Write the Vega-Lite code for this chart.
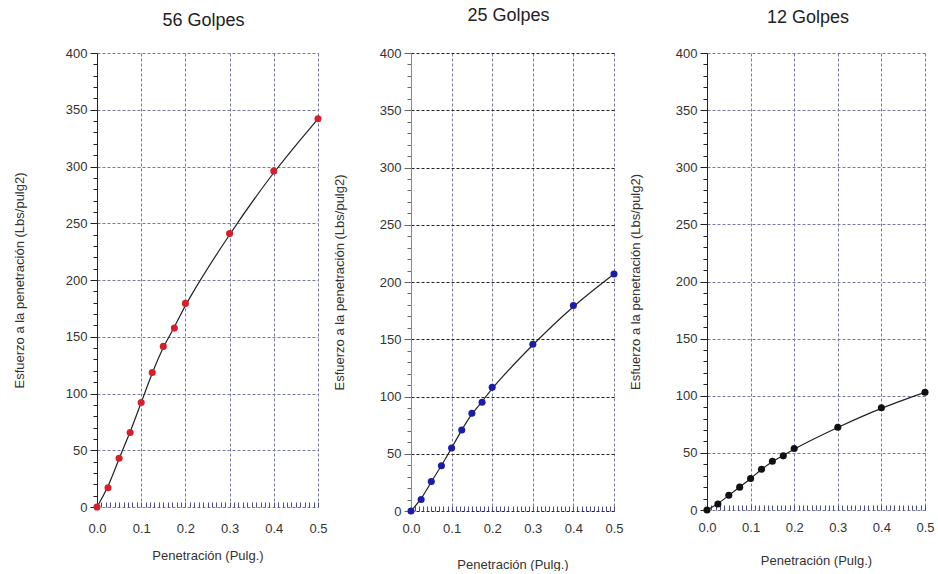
{
  "$schema": "https://vega.github.io/schema/vega-lite/v6.json",
  "background": "white",
  "padding": {"left": 13, "top": 7, "right": 0, "bottom": 0},
  "config": {
    "font": "Liberation Sans",
    "view": {"stroke": null},
    "axis": {
      "labelFont": "Liberation Sans", "labelFontSize": 13, "labelColor": "#333",
      "titleFont": "Liberation Sans", "titleFontSize": 13, "titleFontWeight": "normal", "titleColor": "#333",
      "gridDash": [3, 2], "gridColor": "#7777a6", "gridWidth": 1, "labelOverlap": false,
      "ticks": true, "tickWidth": 1, "tickOpacity": 1
    },
    "title": {"font": "Liberation Sans", "fontSize": 18, "fontWeight": "normal", "color": "#222"}
  },
  "datasets": {
    "g56": [
      {"pen": 0, "esf": 0}, {"pen": 0.025, "esf": 17}, {"pen": 0.05, "esf": 43}, {"pen": 0.075, "esf": 65.6},
      {"pen": 0.1, "esf": 92}, {"pen": 0.125, "esf": 118.5}, {"pen": 0.15, "esf": 141.5}, {"pen": 0.175, "esf": 157.6},
      {"pen": 0.2, "esf": 179.4}, {"pen": 0.3, "esf": 241}, {"pen": 0.4, "esf": 296}, {"pen": 0.5, "esf": 342}
    ],
    "g25": [
      {"pen": 0, "esf": 0}, {"pen": 0.025, "esf": 10}, {"pen": 0.05, "esf": 25.7}, {"pen": 0.075, "esf": 39.5},
      {"pen": 0.1, "esf": 55}, {"pen": 0.125, "esf": 70.8}, {"pen": 0.15, "esf": 85.4}, {"pen": 0.175, "esf": 95},
      {"pen": 0.2, "esf": 108}, {"pen": 0.3, "esf": 145.6}, {"pen": 0.4, "esf": 179.5}, {"pen": 0.5, "esf": 207}
    ],
    "g12": [
      {"pen": 0, "esf": 0}, {"pen": 0.025, "esf": 5.3}, {"pen": 0.05, "esf": 12.9}, {"pen": 0.075, "esf": 20},
      {"pen": 0.1, "esf": 27.5}, {"pen": 0.125, "esf": 35.7}, {"pen": 0.15, "esf": 42.7}, {"pen": 0.175, "esf": 47.4},
      {"pen": 0.2, "esf": 53.8}, {"pen": 0.3, "esf": 72.5}, {"pen": 0.4, "esf": 89.5}, {"pen": 0.5, "esf": 103}
    ]
  },
  "spacing": 5,
  "hconcat": [
    {
      "width": 221, "height": 454,
      "title": {"text": "56 Golpes", "offset": 17, "dx": -4},
      "data": {"name": "g56"},
      "encoding": {
        "x": {"field": "pen", "type": "quantitative", "scale": {"domain": [0, 0.5], "nice": false},
          "axis": {"title": "Penetración (Pulg.)",
            "values": [0,0.01,0.02,0.03,0.04,0.05,0.06,0.07,0.08,0.09,0.1,0.11,0.12,0.13,0.14,0.15,0.16,0.17,0.18,0.19,0.2,0.21,0.22,0.23,0.24,0.25,0.26,0.27,0.28,0.29,0.3,0.31,0.32,0.33,0.34,0.35,0.36,0.37,0.38,0.39,0.4,0.41,0.42,0.43,0.44,0.45,0.46,0.47,0.48,0.49,0.5],
            "labelExpr": "abs(datum.value*10 - round(datum.value*10)) < 0.001 ? format(datum.value, '.1f') : ''",
            "gridOpacity": {"condition": {"test": "abs(datum.value*10 - round(datum.value*10)) < 0.001", "value": 1}, "value": 0},
            "offset": -5, "domain": false,
            "tickSize": 5, "tickColor": "#4a4a8a",
            "labelPadding": 15, "titlePadding": 14, "labelFlush": false}},
        "y": {"field": "esf", "type": "quantitative", "scale": {"domain": [0, 400], "nice": false},
          "axis": {"title": "Esfuerzo a la penetración (Lbs/pulg2)",
            "values": [0,10,20,30,40,50,60,70,80,90,100,110,120,130,140,150,160,170,180,190,200,210,220,230,240,250,260,270,280,290,300,310,320,330,340,350,360,370,380,390,400],
            "labelExpr": "datum.value % 50 === 0 ? datum.label : ''",
            "gridOpacity": {"condition": {"test": "datum.value % 50 === 0", "value": 1}, "value": 0},
            "tickSize": {"condition": {"test": "datum.value % 50 === 0", "value": 7}, "value": 4},
            "tickColor": "#222", "domainColor": "#222", "labelPadding": 3, "titlePadding": 39}}
      },
      "layer": [
        {"mark": {"type": "line", "interpolate": "basis", "color": "#222", "strokeWidth": 1.2}},
        {"mark": {"type": "circle", "size": 50, "opacity": 1, "color": "#d4202a"}}
      ]
    },
    {
      "width": 203, "height": 458,
      "title": {"text": "25 Golpes", "offset": 22, "dx": -4},
      "data": {"name": "g25"},
      "encoding": {
        "x": {"field": "pen", "type": "quantitative", "scale": {"domain": [0, 0.5], "nice": false},
          "axis": {"title": "Penetración (Pulg.)",
            "values": [0,0.01,0.02,0.03,0.04,0.05,0.06,0.07,0.08,0.09,0.1,0.11,0.12,0.13,0.14,0.15,0.16,0.17,0.18,0.19,0.2,0.21,0.22,0.23,0.24,0.25,0.26,0.27,0.28,0.29,0.3,0.31,0.32,0.33,0.34,0.35,0.36,0.37,0.38,0.39,0.4,0.41,0.42,0.43,0.44,0.45,0.46,0.47,0.48,0.49,0.5],
            "labelExpr": "abs(datum.value*10 - round(datum.value*10)) < 0.001 ? format(datum.value, '.1f') : ''",
            "gridOpacity": {"condition": {"test": "abs(datum.value*10 - round(datum.value*10)) < 0.001", "value": 1}, "value": 0},
            "gridColor": "#7a7a9a",
            "offset": -5, "domain": false,
            "tickSize": 5, "tickColor": "#4a4a8a",
            "labelPadding": 11, "titlePadding": 23, "labelFlush": false}},
        "y": {"field": "esf", "type": "quantitative", "scale": {"domain": [0, 400], "nice": false},
          "axis": {"title": "Esfuerzo a la penetración (Lbs/pulg2)",
            "values": [0,10,20,30,40,50,60,70,80,90,100,110,120,130,140,150,160,170,180,190,200,210,220,230,240,250,260,270,280,290,300,310,320,330,340,350,360,370,380,390,400],
            "labelExpr": "datum.value % 50 === 0 ? datum.label : ''",
            "gridOpacity": {"condition": {"test": "datum.value % 50 === 0", "value": 1}, "value": 0},
            "gridColor": "#222",
            "tickSize": {"condition": {"test": "datum.value % 50 === 0", "value": 7}, "value": 4},
            "tickColor": "#666", "domainColor": "#888", "labelPadding": 3, "titlePadding": 33}}
      },
      "layer": [
        {"mark": {"type": "line", "interpolate": "basis", "color": "#222", "strokeWidth": 1.2}},
        {"mark": {"type": "circle", "size": 50, "opacity": 1, "color": "#1c1ca6"}}
      ]
    },
    {
      "width": 218, "height": 457,
      "title": {"text": "12 Golpes", "offset": 20, "dx": -8},
      "data": {"name": "g12"},
      "encoding": {
        "x": {"field": "pen", "type": "quantitative", "scale": {"domain": [0, 0.5], "nice": false},
          "axis": {"title": "Penetración (Pulg.)",
            "values": [0,0.01,0.02,0.03,0.04,0.05,0.06,0.07,0.08,0.09,0.1,0.11,0.12,0.13,0.14,0.15,0.16,0.17,0.18,0.19,0.2,0.21,0.22,0.23,0.24,0.25,0.26,0.27,0.28,0.29,0.3,0.31,0.32,0.33,0.34,0.35,0.36,0.37,0.38,0.39,0.4,0.41,0.42,0.43,0.44,0.45,0.46,0.47,0.48,0.49,0.5],
            "labelExpr": "abs(datum.value*10 - round(datum.value*10)) < 0.001 ? format(datum.value, '.1f') : ''",
            "gridOpacity": {"condition": {"test": "abs(datum.value*10 - round(datum.value*10)) < 0.001", "value": 1}, "value": 0},
            "offset": -5, "domain": false,
            "tickSize": 5, "tickColor": "#4a4a8a",
            "labelPadding": 11, "titlePadding": 20, "labelFlush": false}},
        "y": {"field": "esf", "type": "quantitative", "scale": {"domain": [0, 400], "nice": false},
          "axis": {"title": "Esfuerzo a la penetración (Lbs/pulg2)",
            "values": [0,10,20,30,40,50,60,70,80,90,100,110,120,130,140,150,160,170,180,190,200,210,220,230,240,250,260,270,280,290,300,310,320,330,340,350,360,370,380,390,400],
            "labelExpr": "datum.value % 50 === 0 ? datum.label : ''",
            "gridOpacity": {"condition": {"test": "datum.value % 50 === 0", "value": 1}, "value": 0},
            "tickSize": {"condition": {"test": "datum.value % 50 === 0", "value": 7}, "value": 4},
            "tickColor": "#222", "domainColor": "#222", "labelPadding": 3, "titlePadding": 33}}
      },
      "layer": [
        {"mark": {"type": "line", "interpolate": "basis", "color": "#222", "strokeWidth": 1.2}},
        {"mark": {"type": "circle", "size": 50, "opacity": 1, "color": "#111"}}
      ]
    }
  ]
}
